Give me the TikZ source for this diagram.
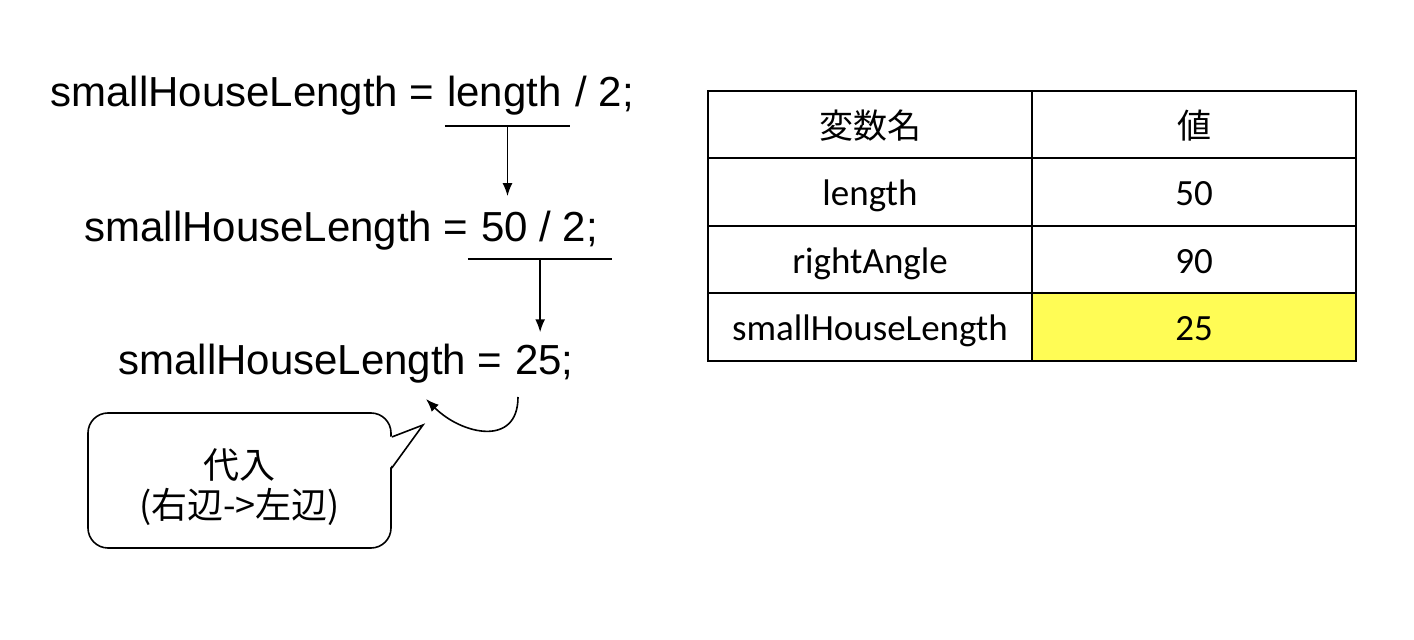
\documentclass[tikz,border=0pt]{standalone}
\usepackage{fontspec}
\setmainfont{Liberation Sans}
\newfontfamily\jpfont{Noto Sans CJK JP}
\newfontfamily\cellfont{Carlito}
\usetikzlibrary{positioning,arrows.meta}
\definecolor{hilite}{HTML}{FFFC55}
\tikzset{
  code/.style={font=\fontsize{21}{25}\selectfont, inner sep=0pt},
  cell/.style={draw, line width=1pt, minimum width=162pt, minimum height=33.75pt, inner sep=0pt,
    text height=17pt, text depth=3pt, font=\cellfont\fontsize{18.5}{22}\selectfont},
  jpcell/.style={cell, font=\jpfont\fontsize{17}{20}\selectfont},
  flow/.style={-{Latex[length=6.5pt,width=5pt]}, line width=0.8pt},
  uline/.style={line width=0.9pt},
}
\begin{document}
\begin{tikzpicture}[x=0.5pt,y=-0.5pt]
    \useasboundingbox (0,0) rectangle (1414,640);

    % Las tres líneas del cálculo
    \node[code, anchor=base west] (name1) at (50,107) {smallHouseLength =};
    \node[code, base right=6pt of name1] (len1) {length};
    \node[code, base right=6.5pt of len1] (div1) {/ 2;};
    \node[code, anchor=base west] (name2) at (84,242) {smallHouseLength =};
    \node[code, base right=6pt of name2] (val2) {50 / 2;};
    \node[code, anchor=base west] (name3) at (118,375) {smallHouseLength =};
    \node[code, base right=6pt of name3] (val3) {25;};

    % Subrayados y sustituciones
    \draw[uline] ([shift={(-1pt,-5pt)}]len1.south west) -- coordinate (mid1) ([shift={(4pt,-5pt)}]len1.south east);
    \draw[flow, shorten >=7.5pt] (mid1) -- (mid1 |- val2.north);
    \draw[uline] ([shift={(-6.5pt,-5.5pt)}]val2.south west) -- coordinate (mid2) ([shift={(7pt,-5.5pt)}]val2.south east);
    \draw[flow, shorten >=6.5pt] (mid2) -- (mid2 |- val3.north);

    % Flecha de asignación y globo
    \coordinate (turnA) at (518,397);
    \coordinate (turnB) at (426,399);
    \draw[flow] (turnA) to[out=-90, in=-45, looseness=1.4] (turnB);
    \node[draw, fill=white, rounded corners=10pt, line width=0.8pt, minimum width=151.5pt, minimum height=67.5pt,
      align=center, font=\jpfont\fontsize{18}{20}\selectfont] (note) at (239.5,480.5)
      {\rule{0pt}{22pt}代入\\(右辺->左辺)};
    \coordinate (tip) at (423,425);
    \fill[white] ([shift={(-1pt,0pt)}]note.east |- 0,437) -- (tip) -- ([shift={(-1pt,0pt)}]note.east |- 0,468) -- cycle;
    \draw[line width=0.8pt] (note.east |- 0,437) -- (tip) -- (note.east |- 0,468);

    % Tabla de variables
    \node[jpcell] (head1) at (870,124.5) {変数名};
    \node[jpcell] (head2) at (1194,124.5) {値};
    \foreach \r/\n/\v/\c in {1/length/50/white, 2/rightAngle/90/white, 3/smallHouseLength/25/hilite} {
      \node[cell] (var\r) at (870,{124.5+67.5*\r}) {\n};
      \node[cell, fill=\c] (val\r) at (1194,{124.5+67.5*\r}) {\v};
    }
\end{tikzpicture}
\end{document}
